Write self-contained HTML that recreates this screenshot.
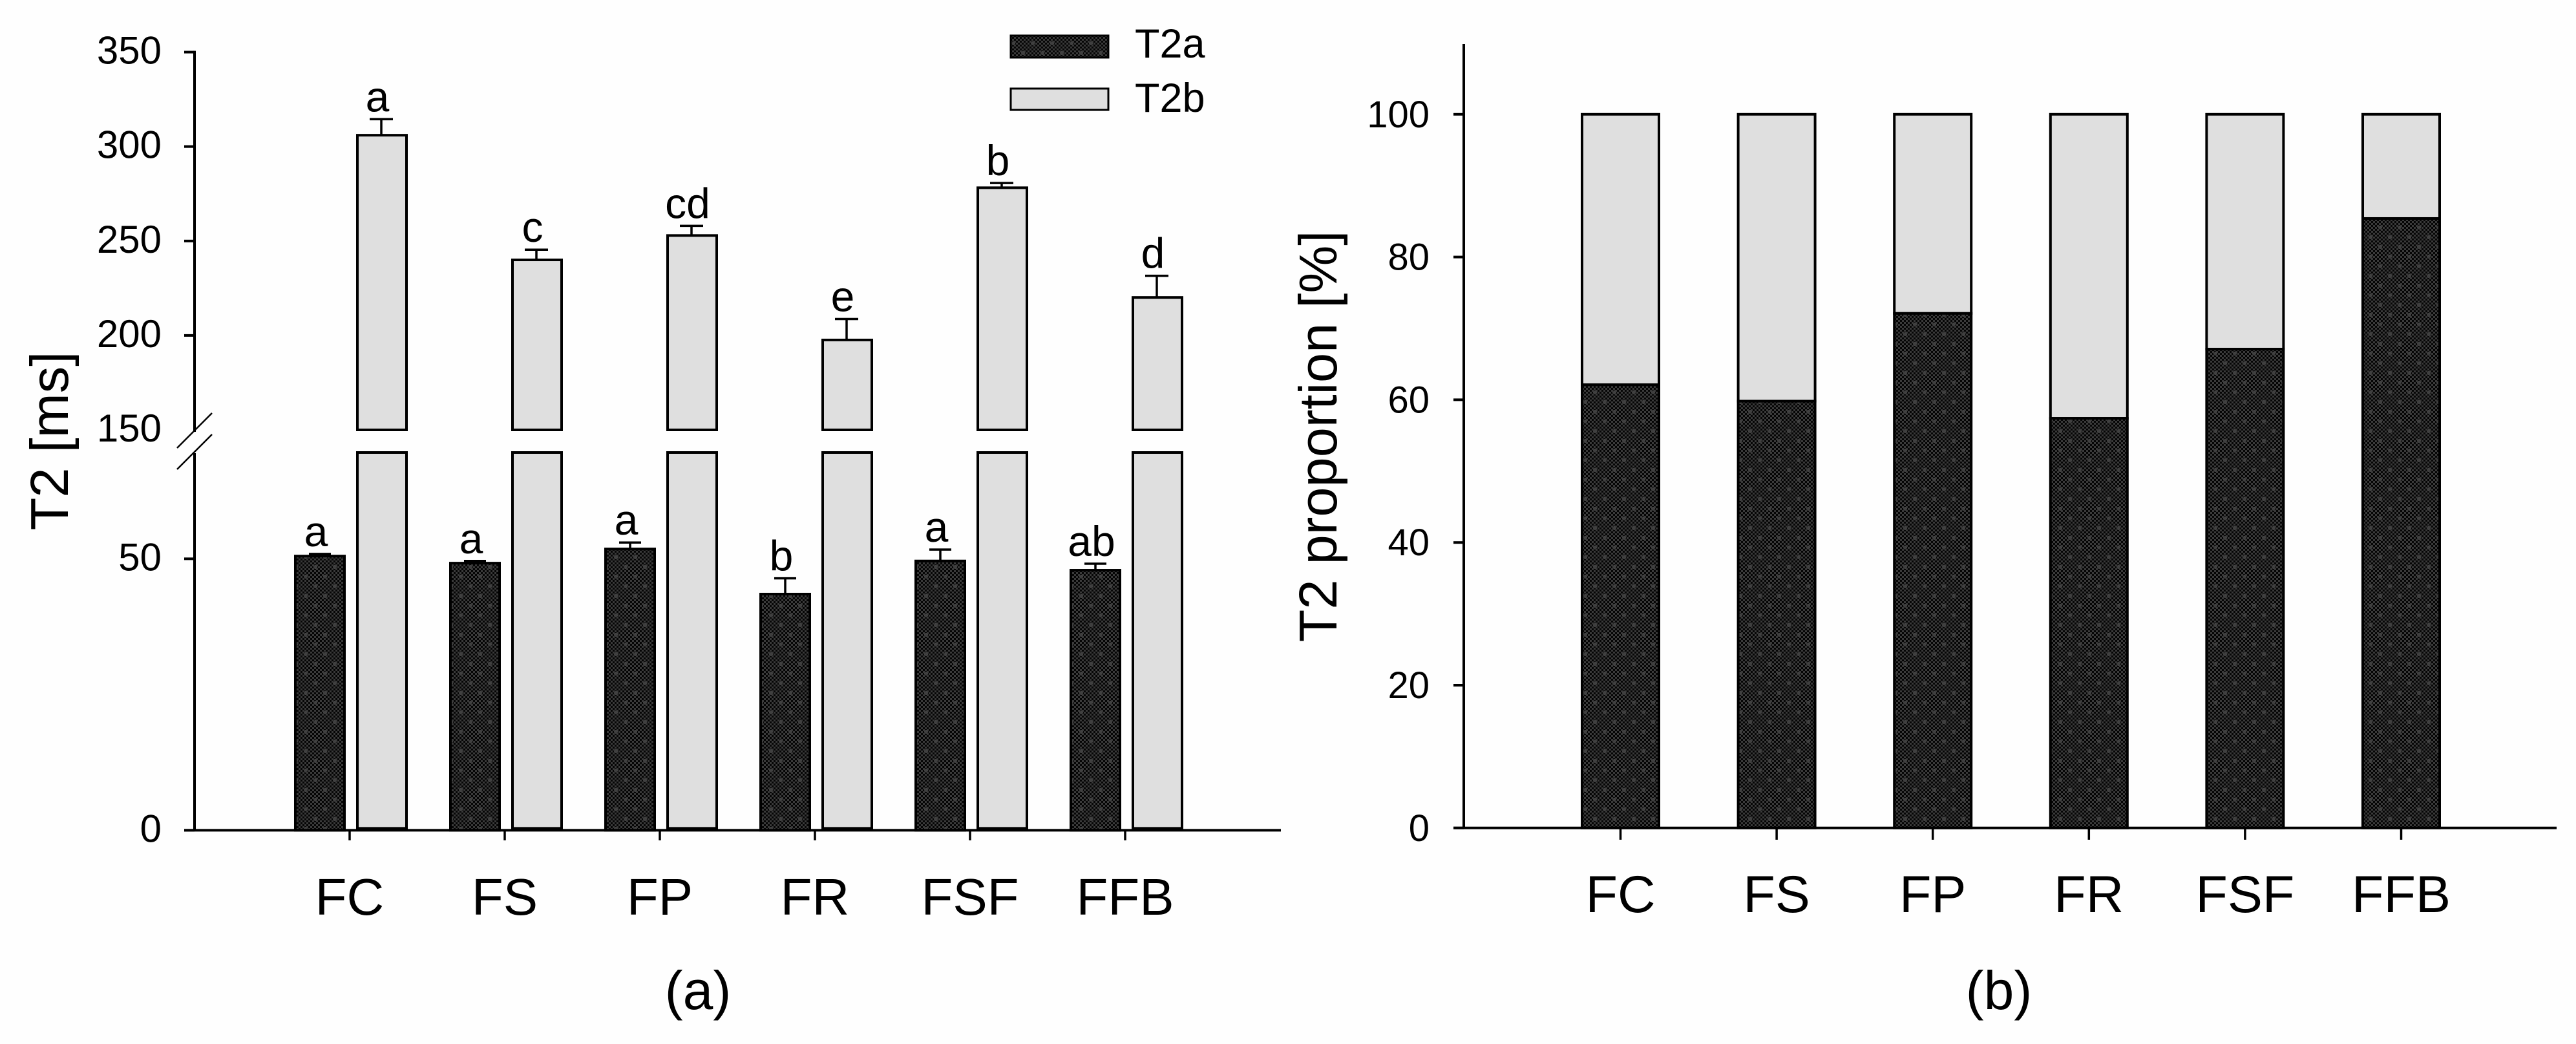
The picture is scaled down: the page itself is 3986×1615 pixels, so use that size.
<!DOCTYPE html>
<html lang="en">
<head>
<meta charset="utf-8">
<title>T2 relaxation chart</title>
<style>
html,body{margin:0;padding:0;background:#fefefe;}
svg{display:block;}
text{font-family:"Liberation Sans",sans-serif;fill:#000;}
</style>
</head>
<body>
<svg id="figure" xmlns="http://www.w3.org/2000/svg" width="3986" height="1615" viewBox="0 0 3986 1615">
  <defs>
    <pattern id="checker" patternUnits="userSpaceOnUse" width="6" height="6">
      <rect width="6" height="6" fill="#050505"/>
      <rect x="0" y="0" width="3" height="3" fill="#3a3a3a"/>
      <rect x="3" y="3" width="3" height="3" fill="#3a3a3a"/>
    </pattern>
    <pattern id="dark-fill" patternUnits="userSpaceOnUse" width="30" height="30">
      <rect width="30" height="30" fill="url(#checker)"/>
      <path d="M5 7h6M8 4v6M20 22h6M23 19v6" stroke="#404040" stroke-width="3" fill="none"/>
    </pattern>
  </defs>
  <rect width="3986" height="1615" fill="#fefefe"/>
  <g id="panel-a"></g>
  <g id="panel-b"></g>

  <g>
    <rect x="1564" y="55" width="151" height="34" fill="url(#dark-fill)" stroke="#000" stroke-width="3"/>
    <text x="1756" y="89" font-size="63">T2a</text>
    <rect x="1564" y="137" width="151" height="33" fill="#dfdfdf" stroke="#000" stroke-width="3"/>
    <text x="1756" y="173" font-size="63">T2b</text>
  </g>

  <text transform="translate(105 682) rotate(-90)" text-anchor="middle" font-size="83">T2 [ms]</text>
  <text transform="translate(2068 675) rotate(-90)" text-anchor="middle" font-size="83">T2 proportion [%]</text>
  <text x="1080" y="1561" text-anchor="middle" font-size="84">(a)</text>
  <text x="3093" y="1561" text-anchor="middle" font-size="84">(b)</text>
</svg>
<script>
const categories = ['FC', 'FS', 'FP', 'FR', 'FSF', 'FFB'];
const t2aValues = [50.5, 49.2, 51.8, 43.5, 49.6, 47.9];
const t2aErrors = [0.4, 0.4, 1.2, 2.9, 2.1, 1.2];
const t2aLetters = ['a', 'a', 'a', 'b', 'a', 'ab'];
const t2bValues = [306, 240, 252.9, 197.6, 278.2, 220.1];
const t2bErrors = [8.5, 5.4, 5.1, 11.1, 2.5, 11.5];
const t2bLetters = ['a', 'c', 'cd', 'e', 'b', 'd'];
const upperTicks = [150, 200, 250, 300, 350];
const upperTickLabels = ['150', '200', '250', '300', '350'];
const lowerTicks = [0, 50];
const lowerTickLabels = ['0', '50'];
const proportionT2a = [62.1, 59.8, 72.1, 57.4, 67.1, 85.4];
const proportionTotal = [100, 100, 100, 100, 100, 100];
const proportionTicks = [0, 20, 40, 60, 80, 100];
const proportionTickLabels = ['0', '20', '40', '60', '80', '100'];

const NS = 'http://www.w3.org/2000/svg';
const panelA = document.getElementById('panel-a');
const panelB = document.getElementById('panel-b');

function xA(i) { return 541 + 240 * i; }
function yUpper(v) { return 80.6 + (350 - v) * 2.922; }
function yLower(v) { return 1284.4 - v * 8.4; }
function xB(i) { return 2507.5 + 241.6 * i; }
function yB(v) { return 1280.8 - v * 11.04; }

function make(parent, tag, attrs, txt) {
  const el = document.createElementNS(NS, tag);
  for (const k in attrs) el.setAttribute(k, attrs[k]);
  if (txt !== undefined) el.textContent = txt;
  parent.appendChild(el);
  return el;
}
function line(parent, x1, y1, x2, y2, w) {
  return make(parent, 'line', { x1: x1, y1: y1, x2: x2, y2: y2, stroke: '#000', 'stroke-width': w });
}
function rectBetween(parent, cx, w, yTop, yBottom, fill, sw) {
  return make(parent, 'rect', { x: cx - w / 2, y: yTop, width: w, height: yBottom - yTop, fill: fill, stroke: '#000', 'stroke-width': sw });
}

/* ---------- panel (a) ---------- */
categories.forEach(function (cat, i) {
  const tick = xA(i);
  const ca = tick - 46;
  const cb = tick + 50;

  const barA = rectBetween(panelA, ca, 76, yLower(t2aValues[i]), yLower(0), 'url(#dark-fill)', 4);
  
  

  const barBLow = rectBetween(panelA, cb, 76, 700, yLower(0) - 3, '#dfdfdf', 4);
  
  

  const barBUp = rectBetween(panelA, cb, 76, yUpper(t2bValues[i]), yUpper(150), '#dfdfdf', 4);
  
  

  const capA = yLower(t2aValues[i] + t2aErrors[i]);
  const stemA = line(panelA, ca, yLower(t2aValues[i]), ca, capA, 3.5);
  
  
  const topA = line(panelA, ca - 17, capA, ca + 17, capA, 3.5);
  
  

  const capB = yUpper(t2bValues[i] + t2bErrors[i]);
  const stemB = line(panelA, cb - 1, yUpper(t2bValues[i]), cb - 1, capB, 3.5);
  
  
  const topB = line(panelA, cb - 19, capB, cb + 17, capB, 3.5);
  
  

  const letterA = make(panelA, 'text', { x: ca - 6, y: capA - 12, 'text-anchor': 'middle', 'font-size': 66 }, t2aLetters[i]);
  
  

  const letterB = make(panelA, 'text', { x: cb - 7, y: capB - 12, 'text-anchor': 'middle', 'font-size': 66 }, t2bLetters[i]);
  
  

  const xt = line(panelA, tick, yLower(0), tick, 1300, 3.5);
  
  

  const xl = make(panelA, 'text', { x: tick, y: 1415, 'text-anchor': 'middle', 'font-size': 80 }, cat);
  
  
});

const axisAUp = line(panelA, 301, yUpper(350) - 2, 301, 668, 4);


const axisALow = line(panelA, 301, 701, 301, yLower(0), 4);


const axisAX = line(panelA, 285, yLower(0), 1982, yLower(0), 4);


const breakOne = line(panelA, 274, 693, 328, 639, 2.5);


const breakTwo = line(panelA, 274, 726, 328, 672, 2.5);



upperTicks.forEach(function (v, i) {
  if (v !== 150) {
    const t = line(panelA, 285, yUpper(v), 301, yUpper(v), 4);
    
    
  }
  const l = make(panelA, 'text', { x: 250, y: yUpper(v) + 18, 'text-anchor': 'end', 'font-size': 60 }, upperTickLabels[i]);
  
  
});
lowerTicks.forEach(function (v, i) {
  const t = line(panelA, 285, yLower(v), 301, yLower(v), 4);
  
  
  const l = make(panelA, 'text', { x: 250, y: yLower(v) + 18, 'text-anchor': 'end', 'font-size': 60 }, lowerTickLabels[i]);
  
  
});

/* ---------- panel (b) ---------- */
categories.forEach(function (cat, i) {
  const c = xB(i);

  const light = rectBetween(panelB, c, 119, yB(proportionTotal[i]), yB(proportionT2a[i]), '#dfdfdf', 4);
  
  

  const dark = rectBetween(panelB, c, 119, yB(proportionT2a[i]), yB(0), 'url(#dark-fill)', 4);
  
  

  const xt = line(panelB, c, yB(0), c, 1299, 3.5);
  
  

  const xl = make(panelB, 'text', { x: c, y: 1411, 'text-anchor': 'middle', 'font-size': 81 }, cat);
  
  
});

const axisBY = line(panelB, 2265, 68, 2265, yB(0), 4);


const axisBX = line(panelB, 2249, yB(0), 3956, yB(0), 4);



proportionTicks.forEach(function (v, i) {
  const t = line(panelB, 2249, yB(v), 2265, yB(v), 4);
  
  
  const l = make(panelB, 'text', { x: 2212, y: yB(v) + 20, 'text-anchor': 'end', 'font-size': 58 }, proportionTickLabels[i]);
  
  
});
</script>
</body>
</html>
